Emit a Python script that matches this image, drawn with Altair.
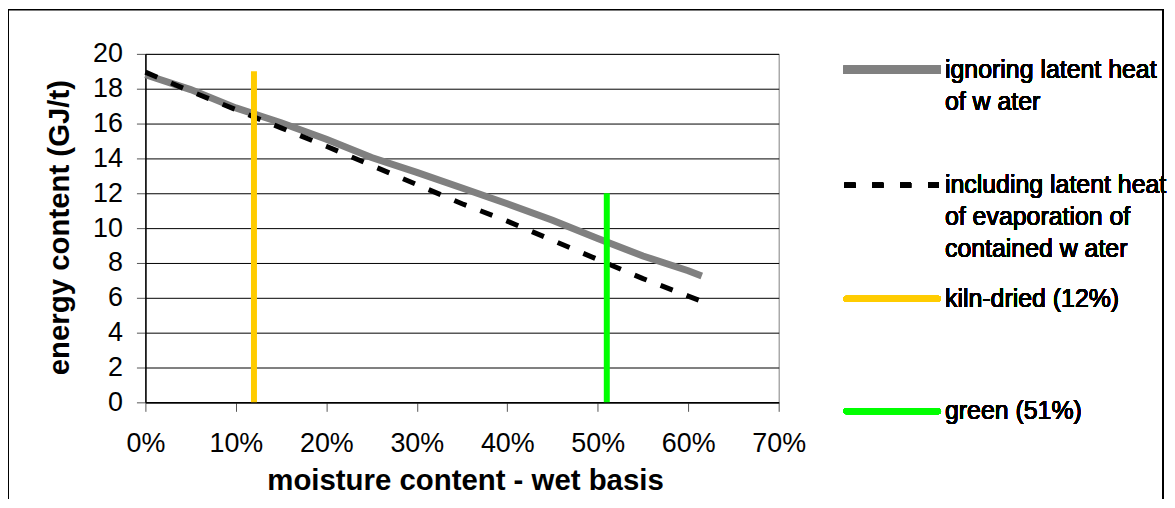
import altair as alt
import pandas as pd

# ---- data ----
moisture = [0, 5, 10, 15, 20, 25, 30, 35, 40, 45, 50, 55, 60, 61.5]          # % wet basis
ignoring_latent = [18.8, 17.95, 16.9, 16.05, 15.1, 14.05, 13.2, 12.3, 11.4, 10.45, 9.4, 8.4, 7.55, 7.25]
including_latent = [18.95, 17.85, 16.8, 15.75, 14.7, 13.6, 12.5, 11.4, 10.4, 9.3, 8.2, 7.1, 6.1, 5.8]

marker_names = ["kiln-dried (12%)", "green (51%)"]
marker_moisture = [12, 51]
marker_top = [19, 12]
marker_colors = ["#FFCC00", "#00FF00"]

x_ticks = [0, 10, 20, 30, 40, 50, 60, 70]
y_ticks = [0, 2, 4, 6, 8, 10, 12, 14, 16, 18, 20]

legend_gray = ["ignoring latent heat", "of w ater"]
legend_dash = ["including latent heat", "of evaporation of", "contained w ater"]

FONT = "Liberation Sans"

df_ign = pd.DataFrame({"m": [v / 100 for v in moisture], "e": ignoring_latent})
df_inc = pd.DataFrame({"m": [v / 100 for v in moisture], "e": including_latent})
df_mark = pd.DataFrame({
    "name": marker_names,
    "m": [v / 100 for v in marker_moisture],
    "e": [0, 0],
    "top": marker_top,
    "c": marker_colors,
})

W, H = 636, 350

x_scale = alt.Scale(domain=[0, 0.7], nice=False, zero=True)
y_scale = alt.Scale(domain=[0, 20], nice=False, zero=True)

x_axis = alt.Axis(
    values=[v / 100 for v in x_ticks], format=".0%", grid=False,
    title="moisture content - wet basis",
    titleX=321, titleY=65, titleAnchor="middle", titleAlign="center", titleBaseline="top",
    labelPadding=19, tickSize=9, labelOverlap=False, labelFlush=False,
)
y_axis = alt.Axis(
    values=y_ticks, tickCount=11, grid=True, gridColor="#000000", gridWidth=1,
    title="energy content (GJ/t)",
    titleX=-71, titleY=174, titleAngle=-90, titleAlign="center", titleBaseline="bottom",
    labelPadding=14, tickSize=9, labelOverlap=False, labelFlush=False,
)

x_enc = alt.X("m:Q", scale=x_scale, axis=x_axis)
y_enc = alt.Y("e:Q", scale=y_scale, axis=y_axis)

gray = alt.Chart(df_ign).mark_line(color="#808080", strokeWidth=7).encode(x=x_enc, y=y_enc)
dash = alt.Chart(df_inc).mark_line(color="#000000", strokeWidth=5, strokeDash=[13, 15]).encode(
    x=x_enc, y=y_enc)
verts = alt.Chart(df_mark).mark_rule(strokeWidth=6).encode(
    x=x_enc, y=y_enc, y2="top:Q", color=alt.Color("c:N", scale=None))

# ---- legend (drawn manually) ----
LX1, LX2, TX = 701, 799, 803
leg = []
leg.append(alt.Chart(df_ign).mark_rule(color="#808080", strokeWidth=8).encode(
    x=alt.value(LX1), x2=alt.value(LX2), y=alt.value(16)))
leg.append(alt.Chart(df_ign).mark_rule(color="#000000", strokeWidth=5, strokeDash=[11, 17]).encode(
    x=alt.value(LX1 + 1), x2=alt.value(LX2), y=alt.value(132)))
leg.append(alt.Chart(df_ign).mark_rule(color=marker_colors[0], strokeWidth=6, strokeCap="round").encode(
    x=alt.value(LX1 + 3), x2=alt.value(LX2 - 3), y=alt.value(246)))
leg.append(alt.Chart(df_ign).mark_rule(color=marker_colors[1], strokeWidth=6, strokeCap="round").encode(
    x=alt.value(LX1 + 3), x2=alt.value(LX2 - 3), y=alt.value(359)))

LH = 32
def text_layer(txt, y):
    return alt.Chart(df_ign).mark_text(
        align="left", baseline="middle", font=FONT, fontSize=25, color="#000000"
    ).encode(x=alt.value(TX), y=alt.value(y), text=alt.value(txt))

for i, t in enumerate(legend_gray):
    leg.append(text_layer(t, 16 + i * LH))
for i, t in enumerate(legend_dash):
    leg.append(text_layer(t, 132 + i * LH))
leg.append(text_layer(marker_names[0], 246))
leg.append(text_layer(marker_names[1], 359))

# ---- outer frame of the chart ----
frame = [
    alt.Chart(df_ign).mark_rule(color="#000000", strokeWidth=1).encode(
        x=alt.value(-138), x2=alt.value(1022.5), y=alt.value(-44.5)),
    alt.Chart(df_ign).mark_rule(color="#000000", strokeWidth=1).encode(
        x=alt.value(-137.5), y=alt.value(-45), y2=alt.value(447)),
    alt.Chart(df_ign).mark_rule(color="#000000", strokeWidth=1).encode(
        x=alt.value(1022), y=alt.value(-45), y2=alt.value(447)),
]

chart = alt.layer(gray, dash, verts, *leg, *frame).properties(
    width=W, height=H,
    autosize=alt.AutoSizeParams(type="none"),
    padding={"left": 138, "top": 45, "right": 390, "bottom": 97},
    background="white",
).configure_view(
    stroke="#808080", strokeWidth=1
).configure_axis(
    labelFont=FONT, labelFontSize=27, labelColor="#000000",
    titleFont=FONT, titleFontSize=29.5, titleFontWeight="bold", titleColor="#000000",
    domainColor="#000000", domainWidth=1.5, tickColor="#555555", tickWidth=1,
)

chart.save("out.html", embed_options={"renderer": "svg", "actions": False})
